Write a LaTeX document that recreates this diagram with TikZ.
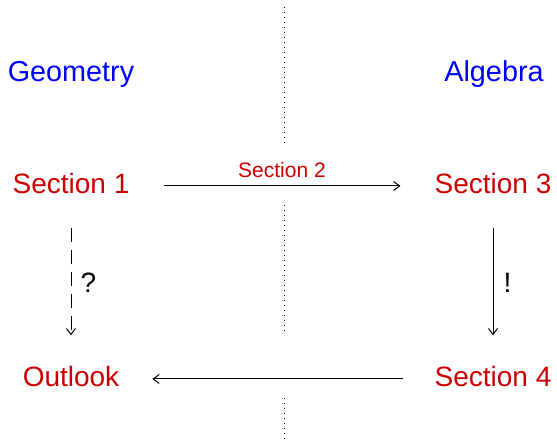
\documentclass[tikz,border=0pt]{standalone}
\usepackage{fontspec}
\setmainfont{Liberation Sans}
\usepackage{xcolor}
\usetikzlibrary{arrows,arrows.meta,positioning}

\definecolor{secred}{RGB}{204,0,0}
\definecolor{topicblue}{RGB}{0,0,255}

\begin{document}
\begin{tikzpicture}[x=0.5pt, y=-0.5pt, node distance=211pt, auto, line width=0.5pt]
    \tikzset{topic/.style={text=topicblue, font=\fontsize{14.4}{16}\selectfont, text height=1em, text depth=0.25em},
             sect/.style={text=secred, font=\fontsize{14}{16}\selectfont, text height=1em, text depth=0.25em},
             link/.style={-{Straight Barb[length=3pt,width=4.5pt]}, shorten <=11pt, shorten >=12pt}}
    \useasboundingbox (0,0) rectangle (557,442);
    \node [topic] (geo) at (71,74) {Geometry};
    \node [topic, right of=geo, node distance=211.5pt] (alg) {Algebra};
    \node [sect, below of=geo, node distance=56pt] (s1) {Section 1};
    \node [sect, right of=s1] (s3) {Section 3};
    \node [sect, below of=s1, node distance=96.5pt] (out) {Outlook};
    \node [sect, right of=out] (s4) {Section 4};
    % divider
    \coordinate (d1) at (284,7);
    \coordinate (d2) at (284,143);
    \coordinate (d3) at (284,205);
    \coordinate (d4) at (284,332);
    \coordinate (d5) at (284,398);
    \coordinate (d6) at (284,442);
    \draw [dotted] (d1) -- (d2);
    \draw [dotted] (d3) -- (d4);
    \draw [dotted] (d5) -- (d6);
    % arrows
    \path [draw, link, shorten <=13.5pt, shorten >=13.5pt] (s1) -- node [text=secred, font=\fontsize{10.5}{12}\selectfont, yshift=0.5pt] {Section 2} (s3);
    \path [draw, link, dash pattern=on 7pt off 4pt] (s1) -- node [font=\fontsize{14}{16}\selectfont, inner sep=4.5pt] {?} (out);
    \path [draw, link] (s3) -- node [font=\fontsize{14}{16}\selectfont, inner sep=5pt] {!} (s4);
    \path [draw, link, shorten <=12pt, shorten >=13pt] (s4) -- (out);
\end{tikzpicture}
\end{document}
